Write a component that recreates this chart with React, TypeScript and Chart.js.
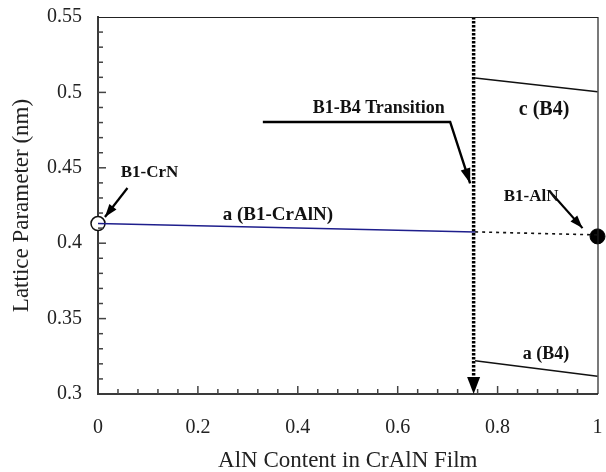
import React, { useEffect, useRef } from "react";
import { Chart, registerables } from "chart.js";

Chart.register(...registerables);

const SERIF = "'Liberation Serif', 'Times New Roman', serif";

// Axis ticks
const xTicks = [0, 0.2, 0.4, 0.6, 0.8, 1];
const xTickLabels = ["0", "0.2", "0.4", "0.6", "0.8", "1"];
const yTicks = [0.3, 0.35, 0.4, 0.45, 0.5, 0.55];
const yTickLabels = ["0.3", "0.35", "0.4", "0.45", "0.5", "0.55"];
const xMinorStep = 0.04;
const yMinorStep = 0.01;

// Series
const aB1CrAlNX = [0, 0.755];
const aB1CrAlNY = [0.413, 0.4075];
const b1ExtX = [0.755, 1];
const b1ExtY = [0.4075, 0.4055];
const cB4X = [0.755, 1];
const cB4Y = [0.5095, 0.5005];
const aB4X = [0.755, 1];
const aB4Y = [0.322, 0.3118];
const b1CrNX = [0];
const b1CrNY = [0.413];
const b1AlNX = [1];
const b1AlNY = [0.4045];
const transitionX = [0.752, 0.752];
const transitionY = [0.55, 0.308];
const transitionArrowTip = [0.752, 0.3];

// Annotations
const annotLabels = ["B1-CrN", "a (B1-CrAlN)", "B1-B4 Transition", "c (B4)", "B1-AlN", "a (B4)"];
const annotX = [0.103, 0.36, 0.562, 0.893, 0.867, 0.897];
const annotY = [0.4465, 0.4187, 0.4897, 0.4883, 0.4306, 0.326];
const annotSize = [17, 19, 18, 20, 17, 18];

// Arrow polylines (data units), last point is tip
const crNArrowX = [0.059, 0.0139];
const crNArrowY = [0.4366, 0.4174];
const transArrowX = [0.33, 0.705, 0.745];
const transArrowY = [0.4804, 0.4804, 0.4397];
const alNArrowX = [0.911, 0.97];
const alNArrowY = [0.432, 0.41];

const zip = (xs: number[], ys: number[]) => xs.map((x, i) => ({ x, y: ys[i] }));

function drawArrow(ctx: CanvasRenderingContext2D, pts: { x: number; y: number }[], head: number, half: number, width: number) {
  ctx.beginPath();
  ctx.moveTo(pts[0].x, pts[0].y);
  for (let i = 1; i < pts.length; i++) ctx.lineTo(pts[i].x, pts[i].y);
  ctx.lineWidth = width;
  ctx.stroke();
  const a = pts[pts.length - 2];
  const b = pts[pts.length - 1];
  const ang = Math.atan2(b.y - a.y, b.x - a.x);
  ctx.beginPath();
  ctx.moveTo(b.x, b.y);
  ctx.lineTo(b.x - head * Math.cos(ang) + half * Math.sin(ang), b.y - head * Math.sin(ang) - half * Math.cos(ang));
  ctx.lineTo(b.x - head * Math.cos(ang) - half * Math.sin(ang), b.y - head * Math.sin(ang) + half * Math.cos(ang));
  ctx.closePath();
  ctx.fill();
}

const overlayPlugin = {
  id: "overlay",
  afterDraw(chart: any) {
    const { ctx, chartArea: ca, scales } = chart;
    const xs = scales.x;
    const ys = scales.y;
    ctx.save();
    // top/right frame
    ctx.strokeStyle = "#222";
    ctx.lineWidth = 1.2;
    ctx.beginPath();
    ctx.moveTo(ca.left, ca.top + 0.5);
    ctx.lineTo(ca.right + 0.5, ca.top + 0.5);
    ctx.lineTo(ca.right + 0.5, ca.bottom);
    ctx.stroke();

    // inward ticks
    ctx.strokeStyle = "#444";
    ctx.lineWidth = 1.5;
    const nx = Math.round(1 / xMinorStep);
    for (let i = 1; i < nx; i++) {
      const px = xs.getPixelForValue(i * xMinorStep);
      const len = i % 5 === 0 ? 8 : 5;
      ctx.beginPath();
      ctx.moveTo(px, ca.bottom);
      ctx.lineTo(px, ca.bottom - len);
      ctx.stroke();
    }
    const ny = Math.round(0.25 / yMinorStep);
    for (let i = 1; i < ny; i++) {
      const py = ys.getPixelForValue(0.3 + i * yMinorStep);
      const len = i % 5 === 0 ? 8 : 5;
      ctx.beginPath();
      ctx.moveTo(ca.left, py);
      ctx.lineTo(ca.left + len, py);
      ctx.stroke();
    }

    // transition arrowhead at bottom
    ctx.fillStyle = "#000";
    ctx.strokeStyle = "#000";
    const tx = xs.getPixelForValue(transitionArrowTip[0]);
    const ty = ys.getPixelForValue(transitionArrowTip[1]);
    ctx.beginPath();
    ctx.moveTo(tx, ty);
    ctx.lineTo(tx - 6.5, ty - 17);
    ctx.lineTo(tx + 6.5, ty - 17);
    ctx.closePath();
    ctx.fill();

    // arrows
    const toPx = (xsArr: number[], ysArr: number[]) =>
      xsArr.map((v, i) => ({ x: xs.getPixelForValue(v), y: ys.getPixelForValue(ysArr[i]) }));
    drawArrow(ctx, toPx(crNArrowX, crNArrowY), 13, 4.5, 2.2);
    drawArrow(ctx, toPx(transArrowX, transArrowY), 15, 5, 2.4);
    drawArrow(ctx, toPx(alNArrowX, alNArrowY), 13, 4.5, 2.2);

    // labels
    ctx.textAlign = "center";
    ctx.textBaseline = "middle";
    ctx.fillStyle = "#111";
    annotLabels.forEach((t, i) => {
      ctx.font = `bold ${annotSize[i]}px ${SERIF}`;
      ctx.fillText(t, xs.getPixelForValue(annotX[i]), ys.getPixelForValue(annotY[i]));
    });
    ctx.restore();
  },
};

export default function App() {
  const ref = useRef<HTMLCanvasElement | null>(null);
  useEffect(() => {
    if (!ref.current) return;
    const solid = (data: any, color: string, width: number, extra: any = {}) => ({
      type: "line",
      data,
      borderColor: color,
      backgroundColor: color,
      borderWidth: width,
      pointRadius: 0,
      showLine: true,
      fill: false,
      tension: 0,
      clip: false,
      ...extra,
    });
    const chart = new Chart(ref.current, {
      type: "scatter",
      data: {
        datasets: [
          solid(zip(aB1CrAlNX, aB1CrAlNY), "#1e1e8c", 1.5),
          solid(zip(b1ExtX, b1ExtY), "#111", 1.6, { borderDash: [3, 4] }),
          solid(zip(cB4X, cB4Y), "#111", 1.5),
          solid(zip(aB4X, aB4Y), "#111", 1.5),
          solid(zip(transitionX, transitionY), "#000", 3.5, { borderDash: [2.5, 1.5], borderCapStyle: "butt" }),
          {
            type: "scatter",
            data: zip(b1CrNX, b1CrNY),
            pointRadius: 7,
            pointBackgroundColor: "#fff",
            pointBorderColor: "#111",
            pointBorderWidth: 1.5,
            clip: false,
          },
          {
            type: "scatter",
            data: zip(b1AlNX, b1AlNY),
            pointRadius: 7.5,
            pointBackgroundColor: "#000",
            pointBorderColor: "#000",
            pointBorderWidth: 1,
            clip: false,
          },
        ] as any,
      },
      options: {
        animation: false,
        responsive: false,
        devicePixelRatio: 1,
        layout: { padding: { top: 17, right: 3, left: 0, bottom: 0 } },
        plugins: { legend: { display: false }, tooltip: { enabled: false } },
        scales: {
          x: {
            type: "linear",
            min: 0,
            max: 1,
            grid: { display: false, drawTicks: false },
            border: { display: true, color: "#3a3a3a", width: 2 },
            afterBuildTicks: (s: any) => {
              s.ticks = xTicks.map((v) => ({ value: v }));
            },
            ticks: {
              callback: (_v: any, i: number) => xTickLabels[i],
              font: { family: SERIF, size: 20 },
              color: "#222",
              padding: 22,
              maxRotation: 0,
              autoSkip: false,
            },
            title: {
              display: true,
              text: "AlN Content in CrAlN Film",
              font: { family: SERIF, size: 23, lineHeight: 1 },
              color: "#222",
              padding: { top: 0, bottom: 0 },
            },
            afterFit: (s: any) => {
              s.height = 78;
              s.paddingLeft = 0;
              s.paddingRight = 0;
            },
          },
          y: {
            type: "linear",
            min: 0.3,
            max: 0.55,
            grid: { display: false, drawTicks: false },
            border: { display: true, color: "#3a3a3a", width: 2 },
            afterBuildTicks: (s: any) => {
              s.ticks = yTicks.map((v) => ({ value: v }));
            },
            ticks: {
              callback: (_v: any, i: number) => yTickLabels[i],
              font: { family: SERIF, size: 20 },
              color: "#222",
              padding: 16,
              autoSkip: false,
            },
            title: {
              display: true,
              text: "Lattice Parameter (nm)",
              font: { family: SERIF, size: 23, lineHeight: 1 },
              color: "#222",
              padding: { top: 10, bottom: 0 },
            },
            afterFit: (s: any) => {
              s.width = 98;
              s.paddingTop = 0;
              s.paddingBottom = 0;
            },
          },
        },
      } as any,
      plugins: [overlayPlugin],
    });
    return () => chart.destroy();
  }, []);
  return (
    <div style={{ position: "fixed", left: 0, top: 0, width: 606, height: 472, background: "#fff" }}>
      <canvas ref={ref} width={606} height={472} style={{ display: "block" }} />
    </div>
  );
}
